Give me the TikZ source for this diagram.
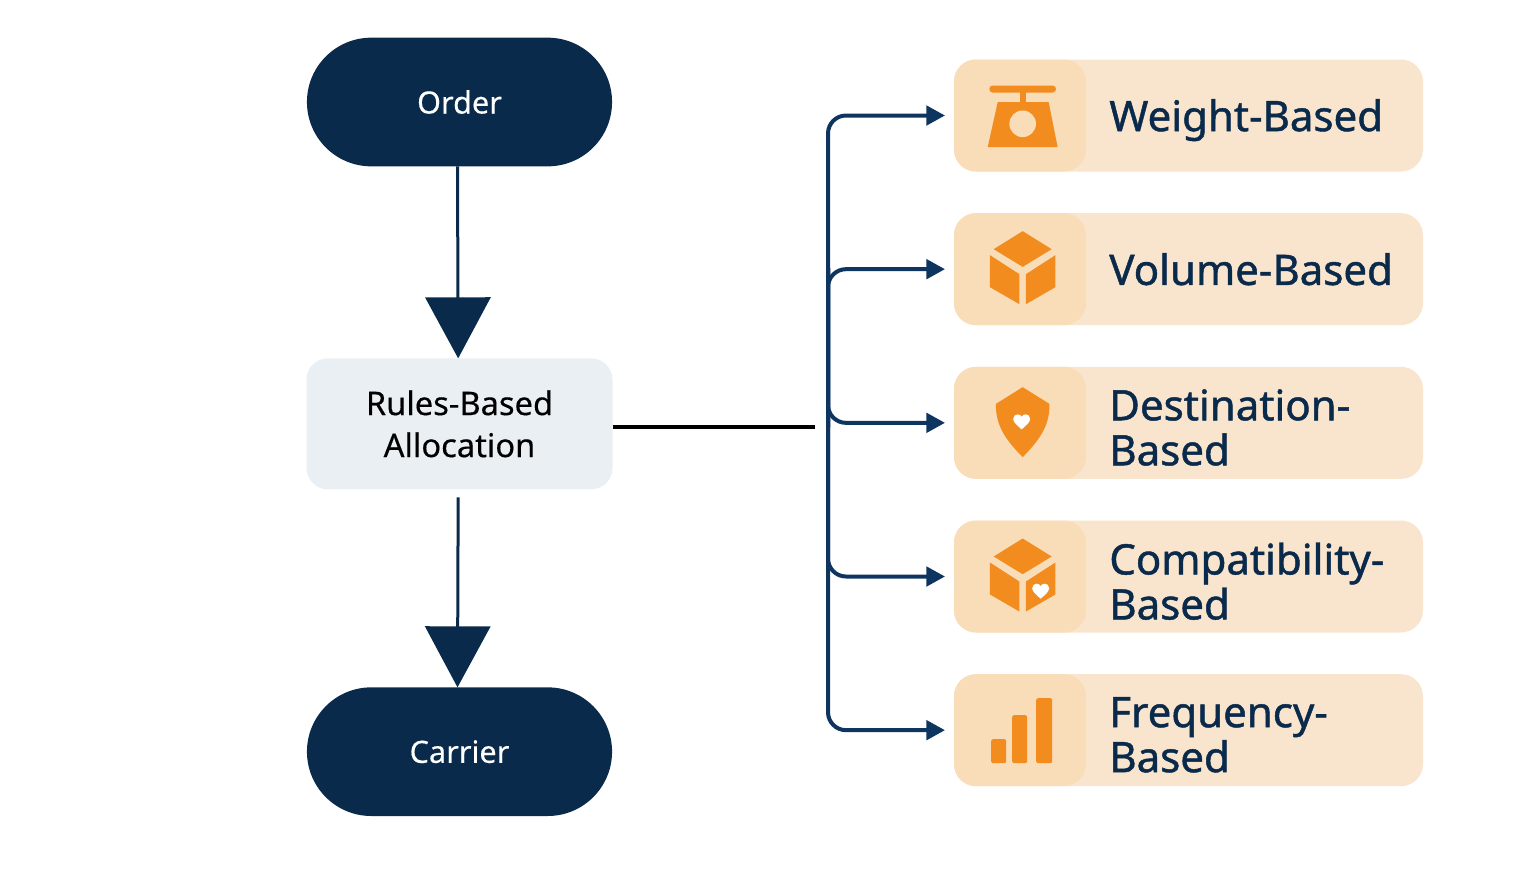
\documentclass[tikz,border=0pt]{standalone}
\usepackage{fontspec}
\setmainfont{Noto Sans}
\newfontfamily\nodefont[FakeBold=0.3]{Noto Sans}
\newfontfamily\labelfont[FakeBold=1.1]{Noto Sans}
\usetikzlibrary{arrows.meta, positioning, shapes.misc}

\definecolor{navy}{HTML}{0A2A4C}
\definecolor{busblue}{HTML}{0E3560}
\definecolor{paleblue}{HTML}{E9EFF2}
\definecolor{cardfill}{HTML}{F9E5CD}
\definecolor{tilefill}{HTML}{F9DDB9}
\definecolor{iconfill}{HTML}{F28C1E}

\tikzset{
    pics/heart mark/.style={code={
        \fill[white] (0,7.5) .. controls (-4,4) and (-8.5,0.5) .. (-8.5,-3) .. controls (-8.5,-6) and (-6,-7.5) .. (-4,-7.5) .. controls (-2,-7.5) and (-0.7,-6.5) .. (0,-5) .. controls (0.7,-6.5) and (2,-7.5) .. (4,-7.5) .. controls (6,-7.5) and (8.5,-6) .. (8.5,-3) .. controls (8.5,0.5) and (4,4) .. (0,7.5) -- cycle;
    }},
    pics/weight icon/.style={code={
        \fill[iconfill,rounded corners=2.5pt] (-33.3,-30) rectangle (33.3,-23);
        \fill[iconfill] (-3,-24) rectangle (3,-13);
        \fill[iconfill] (-25,-13.3) -- (26,-13.3) -- (35,31.7) -- (-35,31.7) -- cycle;
        \fill[tilefill] (0,8.3) circle (13.3);
    }},
    pics/box icon/.style={code={
        \fill[iconfill] (0,-38) -- (29,-20) -- (0,-2.3) -- (-29,-20) -- cycle;
        \fill[iconfill] (-32.7,-14) -- (-3.3,5) -- (-3.3,35) -- (-32.7,18) -- cycle;
        \fill[iconfill] (32.7,-14) -- (3.3,5) -- (3.3,35) -- (32.7,18) -- cycle;
    }},
    pics/shield icon/.style={code={
        \fill[iconfill] (0,-35.7) -- (26.7,-19) .. controls (27.5,3) and (16,18) .. (0,34.3) .. controls (-16,18) and (-27.5,3) .. (-26.7,-19) -- cycle;
        \pic at (-1,-1) {heart mark};
    }},
    pics/bars icon/.style={code={
        \fill[iconfill,rounded corners=1.5pt] (-31.5,9) rectangle (-16.5,33);
        \fill[iconfill,rounded corners=1.5pt] (-10.5,-15) rectangle (4.5,33);
        \fill[iconfill,rounded corners=1.5pt] (13.5,-32) rectangle (29.5,33);
    }}
}

\begin{document}
\begin{tikzpicture}[x=0.75pt,y=-0.75pt]
\useasboundingbox (0,0) rectangle (1536,876);

\tikzstyle{terminal}=[rounded rectangle,outer sep=0pt,fill=navy,text=white,minimum width=235.5pt,minimum height=96.5pt,font=\fontsize{23}{27}\selectfont\nodefont]
\tikzstyle{process}=[rectangle,outer sep=0pt,rounded corners=16pt,fill=paleblue,text=black,align=center,minimum width=229.5pt,minimum height=98.25pt,font=\fontsize{24.5}{31.5}\selectfont\nodefont]
\tikzstyle{card}=[rectangle,outer sep=0pt,rounded corners=16.5pt,fill=cardfill,minimum width=351.75pt,minimum height=84pt]
\tikzstyle{tile}=[rectangle,outer sep=0pt,rounded corners=16.5pt,fill=tilefill,minimum width=99pt,minimum height=84pt]
\tikzstyle{card label}=[text=navy,align=left,inner sep=0pt,outer sep=0pt,font=\fontsize{31.5}{33.75}\selectfont\labelfont]
\tikzstyle{low label}=[card label,yshift=-3.5pt]
\tikzstyle{flow}=[draw=navy,line width=2.25pt,-{Triangle[length=45.75pt,width=48.75pt]}]
\tikzstyle{branch}=[draw=busblue,line width=3pt,rounded corners=13.5pt,-{Triangle[length=14pt,width=14.5pt]},shorten >=6.75pt]

\node[terminal] (order) at (459.5,102) {Order};
\node[process, below=144pt of order] (rules) {Rules-Based\\Allocation};
\node[terminal, below=148.5pt of rules] (carrier) {Carrier};

\node[card] (weight card) at (1188.5,115.5) {};
\node[card, below=31.25pt of weight card] (volume card) {};
\node[card, below=31.25pt of volume card] (destination card) {};
\node[card, below=31.25pt of destination card] (compatibility card) {};
\node[card, below=31.25pt of compatibility card] (frequency card) {};

\foreach \i in {weight, volume, destination, compatibility, frequency} {
    \node[tile, anchor=west] (\i\space tile) at (\i\space card.west) {};
};

\pic at ([xshift=2pt]weight tile.center) {weight icon};
\pic at ([xshift=2pt]volume tile.center) {box icon};
\pic at ([xshift=2pt]destination tile.center) {shield icon};
\pic at ([xshift=2pt]compatibility tile.center) {box icon};
\pic at ([xshift=15.5pt,yshift=-11pt]compatibility tile.center) {heart mark};
\pic at ([xshift=2pt]frequency tile.center) {bars icon};

\node[low label, right=17.5pt of weight tile] (weight label) {Weight-Based};
\node[card label, right=17.5pt of volume tile] (volume label) {Volume-Based};
\node[low label, right=17.5pt of destination tile] (destination label) {Destination-\\Based};
\node[low label, right=17.5pt of compatibility tile] (compatibility label) {Compatibility-\\Based};
\node[low label, right=17.5pt of frequency tile] (frequency label) {Frequency-\\Based};

\coordinate (bus low) at (828,427);
\coordinate (bus high) at (828,268);
\coordinate (bus stub) at (815,427);

\path[flow] ([xshift=-1.5pt]order.south) -- ([xshift=-1pt]rules.north);
\path[flow] ([xshift=-1pt,yshift=-6pt]rules.south) -- ([xshift=-1.5pt]carrier.north);
\draw[black,line width=2.6pt] (rules.east |- bus stub) -- (bus stub);

\path[branch] (bus low) |- (weight card.west);
\path[branch] (bus low) |- (volume card.west);
\path[branch] (bus high) |- (destination card.west);
\path[branch] (bus high) |- (compatibility card.west);
\path[branch] (bus high) |- (frequency card.west);

\end{tikzpicture}
\end{document}
